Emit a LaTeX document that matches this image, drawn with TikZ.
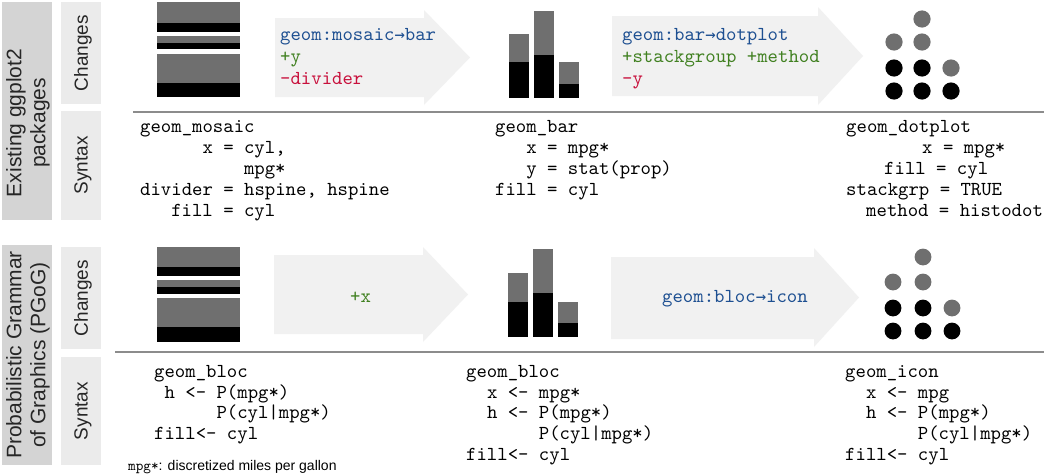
\documentclass[tikz,border=0pt]{standalone}
\usepackage{fontspec}
\setmainfont{Liberation Sans}
\setmonofont{lmmono10-regular.otf}
\newfontfamily\arrfont{DejaVu Sans Mono}[Scale=0.872]
\definecolor{bluetxt}{RGB}{29,79,145}
\definecolor{greentxt}{RGB}{64,128,32}
\definecolor{redtxt}{RGB}{200,16,60}
\definecolor{arrowfill}{RGB}{241,241,241}
\definecolor{biglab}{RGB}{212,212,212}
\definecolor{smalllab}{RGB}{235,235,235}
\definecolor{bargray}{RGB}{111,111,111}
\definecolor{rulegray}{RGB}{140,140,140}
\newcommand{\codefont}{\ttfamily\fontsize{19.8}{22}\selectfont}
\newcommand{\ar}{{\arrfont →}}
\tikzset{
  code/.style={font=\codefont, anchor=base west, inner sep=0pt},
  bigbox/.style={fill=biglab, draw=none},
  smallbox/.style={fill=smalllab, draw=none},
  biglabel/.style={rotate=90, align=center, inner sep=0pt, text=black!85,
    font=\fontsize{21}{24}\selectfont},
  smalllabel/.style={rotate=90, inner sep=0pt, text=black!85,
    font=\fontsize{19}{22}\selectfont},
  bigarrow/.style={fill=arrowfill, draw=none},
  rulestyle/.style={draw=rulegray, line width=2.6pt},
  dotg/.style={fill=bargray, draw=none},
  dotb/.style={fill=black, draw=none},
}
\begin{document}
\begin{tikzpicture}[x=1pt,y=-1pt]
\useasboundingbox (0,0) rectangle (1044,474);
\fill[white] (0,0) rectangle (1044,474);

% ---------- left labels ----------
\fill[bigbox] (2,2) rectangle (52,220);
\fill[smallbox] (61,2) rectangle (101,104);
\fill[smallbox] (61,111) rectangle (101,220);
\node[biglabel] (lab1) at (28,123) {Existing ggplot2\\packages};
\node[smalllabel] (ch1) at (83,53) {Changes};
\node[smalllabel] (sy1) at (83,165.5) {Syntax};

\fill[bigbox] (2,245) rectangle (52,465);
\fill[smallbox] (61,247) rectangle (101,349);
\fill[smallbox] (61,357) rectangle (101,465);
\node[biglabel] (lab2) at (28,355) {Probabilistic Grammar\\of Graphics (PGoG)};
\node[smalllabel] (ch2) at (83,298) {Changes};
\node[smalllabel] (sy2) at (83,411) {Syntax};

% ---------- rules ----------
\coordinate (r1a) at (133,112);
\coordinate (r1b) at (1044,112);
\draw[rulestyle] (r1a) -- (r1b);
\coordinate (r2a) at (115,352);
\coordinate (r2b) at (1044,352);
\draw[rulestyle] (r2a) -- (r2b);

% ---------- mosaics ----------
\foreach \ta/\tm/\tb in {2/23/32, 36/43/49, 54/83/97, 247/267/276, 280/287/294, 298/327/342}{
  \fill[bargray] (157,\ta) rectangle (240,\tm);
  \fill[black] (157,\tm) rectangle (240,\tb);
}

% ---------- arrows ----------
\fill[bigarrow] (275,18) -- (424,18) -- (424,10) -- (470,57.5) -- (424,105) -- (424,97) -- (275,97) -- cycle;
\fill[bigarrow] (612,16) -- (818,16) -- (818,7) -- (863,56) -- (818,105) -- (818,96) -- (612,96) -- cycle;
\fill[bigarrow] (274,255) -- (423,255) -- (423,247) -- (468,294.5) -- (423,342) -- (423,334) -- (274,334) -- cycle;
\fill[bigarrow] (611,257) -- (814,257) -- (814,248) -- (859,297.5) -- (814,347) -- (814,339) -- (611,339) -- cycle;

% arrow texts
\node[code, text=bluetxt] (a1l1) at (280,40) {geom:mosaic\ar bar};
\node[code, text=greentxt] (a1l2) at (280,62) {+y};
\node[code, text=redtxt] (a1l3) at (280,84) {-divider};

\node[code, text=bluetxt] (a2l1) at (622,40) {geom:bar\ar dotplot};
\node[code, text=greentxt] (a2l2) at (622,62) {+stackgroup +method};
\node[code, text=redtxt] (a2l3) at (622,84) {-y};

\node[code, text=greentxt] (a3l1) at (350,302) {+x};
\node[code, text=bluetxt] (a4l1) at (662,302) {geom:bloc\ar icon};

% ---------- bars ----------
\foreach \xa/\top/\mid in {509/34/62, 534/11/55, 559/62/84}{
  \fill[bargray] (\xa,\top) rectangle (\xa+20,\mid);
  \fill[black] (\xa,\mid) rectangle (\xa+20,98);
}
\foreach \xa/\top/\mid in {508/273/302, 533/249/293, 558/302/323}{
  \fill[bargray] (\xa,\top) rectangle (\xa+20,\mid);
  \fill[black] (\xa,\mid) rectangle (\xa+20,337);
}

% ---------- dots ----------
\fill[dotg] (922,19) circle (8.6);
\fill[dotg] (894,42) circle (8.6);
\fill[dotg] (922,42) circle (8.6);
\fill[dotb] (894,68) circle (8.6);
\fill[dotb] (922,68) circle (8.6);
\fill[dotg] (951,68) circle (8.6);
\fill[dotb] (894,91) circle (8.6);
\fill[dotb] (922,91) circle (8.6);
\fill[dotb] (951,91) circle (8.6);

\fill[dotg] (923,257) circle (8.4);
\fill[dotg] (893,282) circle (8.4);
\fill[dotg] (923,282) circle (8.4);
\fill[dotb] (893,308) circle (8.4);
\fill[dotb] (923,308) circle (8.4);
\fill[dotg] (952,308) circle (8.4);
\fill[dotb] (893,331) circle (8.4);
\fill[dotb] (923,331) circle (8.4);
\fill[dotb] (952,331) circle (8.4);

% ---------- syntax (top) ----------
\node[code] (s1a) at (140,132) {geom\_mosaic};
\node[code] (s1b) at (202.3,153) {x = cyl,};
\node[code] (s1c) at (243.8,174) {mpg*};
\node[code] (s1d) at (140,195) {divider = hspine, hspine};
\node[code] (s1e) at (171.1,216) {fill = cyl};

\node[code] (s2a) at (495,132) {geom\_bar};
\node[code] (s2b) at (526.1,153) {x = mpg*};
\node[code] (s2c) at (526.1,174) {y = stat(prop)};
\node[code] (s2d) at (495,195) {fill = cyl};

\node[code] (s3a) at (846,132) {geom\_dotplot};
\node[code] (s3b) at (922,153) {x = mpg*};
\node[code] (s3c) at (884,174) {fill = cyl};
\node[code] (s3d) at (846,195) {stackgrp = TRUE};
\node[code] (s3e) at (866,216) {method = histodot};

% ---------- syntax (bottom) ----------
\node[code] (b1a) at (154,377) {geom\_bloc};
\node[code] (b1b) at (164.4,398) {h <- P(mpg*)};
\node[code] (b1c) at (216.3,418.5) {P(cyl|mpg*)};
\node[code] (b1d) at (154,439) {fill<- cyl};

\node[code] (b2a) at (466,377) {geom\_bloc};
\node[code] (b2b) at (486.8,398) {x <- mpg*};
\node[code] (b2c) at (486.8,418.5) {h <- P(mpg*)};
\node[code] (b2d) at (538.7,439) {P(cyl|mpg*)};
\node[code] (b2e) at (466,460) {fill<- cyl};

\node[code] (b3a) at (845,377) {geom\_icon};
\node[code] (b3b) at (865.8,398) {x <- mpg};
\node[code] (b3c) at (865.8,418.5) {h <- P(mpg*)};
\node[code] (b3d) at (917.7,439) {P(cyl|mpg*)};
\node[code] (b3e) at (845,460) {fill<- cyl};

% footnote
\node[anchor=base west, inner sep=0pt, font=\fontsize{14}{16}\selectfont] (foot) at (128,470)
  {{\ttfamily\fontsize{14.5}{16}\selectfont mpg*}: discretized miles per gallon};
\end{tikzpicture}
\end{document}
